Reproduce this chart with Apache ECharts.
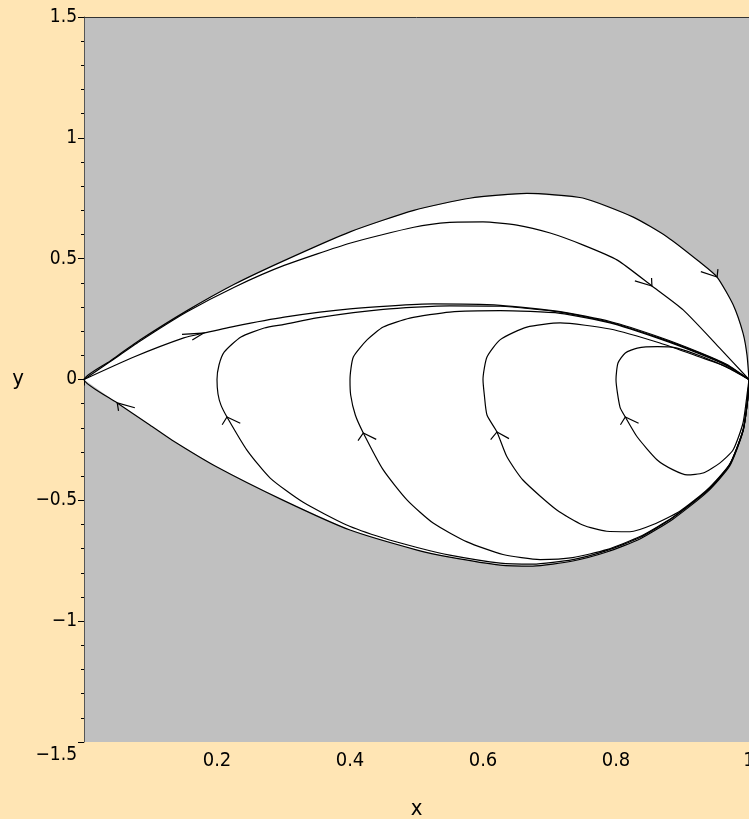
<!DOCTYPE html>
<html><head><meta charset="utf-8">
<script src="https://cdn.jsdelivr.net/npm/echarts@6/dist/echarts.min.js"></script>
<style>html,body{margin:0;padding:0;background:#FFE5B4;}#c{width:749px;height:819px;}</style>
</head><body><div id="c"></div>
<script>
// ---- axis ticks ----
const xTicks = [0, 0.2, 0.4, 0.6, 0.8, 1];
const xTickLabels = ['', '0.2', '0.4', '0.6', '0.8', '1'];
const yTicks = [-1.5, -1, -0.5, 0, 0.5, 1, 1.5];
const yTickLabels = ['−1.5', '−1', '−0.5', '0', '0.5', '1', '1.5'];

// ---- trajectories (x, y), in time order ----
const curveA = [[1,0],[0.998,-0.085],[0.991,-0.215],[0.971,-0.358],[0.937,-0.466],[0.886,-0.577],[0.836,-0.660],[0.786,-0.714],[0.735,-0.751],[0.675,-0.772],[0.626,-0.768],[0.55,-0.735],[0.501,-0.706],[0.40,-0.623],[0.299,-0.499],[0.20,-0.362],[0.132,-0.250],[0.099,-0.188],[0.05,-0.097],[0,0],[0.039,0.076],[0.084,0.163],[0.155,0.285],[0.226,0.394],[0.301,0.492],[0.401,0.612],[0.496,0.700],[0.58,0.750],[0.666,0.770],[0.75,0.751],[0.826,0.672],[0.877,0.590],[0.926,0.486],[0.952,0.424],[0.976,0.31],[0.991,0.192],[0.997,0.101],[1,0]];
const curveB = [[0,0],[0.039,0.073],[0.084,0.158],[0.155,0.280],[0.226,0.382],[0.301,0.472],[0.401,0.565],[0.496,0.630],[0.55,0.650],[0.60,0.652],[0.651,0.639],[0.701,0.606],[0.75,0.557],[0.802,0.494],[0.854,0.387],[0.901,0.288],[0.956,0.13],[1,0]];
const curveC = [[0,0],[0.075,0.093],[0.15,0.172],[0.18,0.192],[0.226,0.220],[0.301,0.258],[0.40,0.292],[0.525,0.313],[0.626,0.307],[0.716,0.281],[0.791,0.240],[0.866,0.175],[0.926,0.112],[0.967,0.062],[1,0]];
const curveD = [[1,0],[0.998,-0.083],[0.991,-0.211],[0.971,-0.353],[0.937,-0.461],[0.886,-0.571],[0.836,-0.654],[0.786,-0.708],[0.735,-0.745],[0.675,-0.764],[0.626,-0.760],[0.55,-0.727],[0.501,-0.695],[0.45,-0.656],[0.395,-0.602],[0.329,-0.507],[0.28,-0.408],[0.245,-0.292],[0.215,-0.155],[0.206,-0.106],[0.2015,-0.060],[0.20,0],[0.203,0.060],[0.211,0.114],[0.236,0.176],[0.271,0.213],[0.301,0.228],[0.35,0.255],[0.45,0.290],[0.55,0.305],[0.626,0.303],[0.716,0.279],[0.791,0.237],[0.866,0.171],[0.926,0.109],[0.967,0.059],[1,0]];
const curveE = [[1,0],[0.998,-0.083],[0.991,-0.211],[0.971,-0.352],[0.937,-0.460],[0.886,-0.569],[0.836,-0.650],[0.786,-0.704],[0.735,-0.737],[0.686,-0.745],[0.63,-0.724],[0.576,-0.672],[0.525,-0.594],[0.486,-0.499],[0.45,-0.374],[0.42,-0.221],[0.408,-0.147],[0.401,-0.064],[0.40,0],[0.405,0.093],[0.426,0.165],[0.45,0.217],[0.49,0.254],[0.55,0.279],[0.626,0.285],[0.716,0.274],[0.791,0.234],[0.866,0.168],[0.926,0.106],[0.967,0.057],[1,0]];
const curveF = [[1,0],[0.998,-0.083],[0.991,-0.210],[0.971,-0.350],[0.937,-0.456],[0.896,-0.545],[0.856,-0.600],[0.821,-0.630],[0.786,-0.628],[0.75,-0.602],[0.711,-0.540],[0.66,-0.416],[0.636,-0.32],[0.621,-0.217],[0.606,-0.147],[0.602,-0.064],[0.60,0],[0.606,0.093],[0.626,0.165],[0.666,0.217],[0.716,0.234],[0.791,0.209],[0.866,0.151],[0.926,0.093],[0.967,0.052],[1,0]];
const curveG = [[1,0],[0.998,-0.043],[0.991,-0.180],[0.976,-0.292],[0.956,-0.346],[0.931,-0.387],[0.907,-0.395],[0.886,-0.374],[0.862,-0.333],[0.832,-0.238],[0.814,-0.155],[0.806,-0.114],[0.80,0],[0.803,0.068],[0.814,0.110],[0.832,0.130],[0.862,0.136],[0.892,0.130],[0.931,0.093],[0.967,0.050],[1,0]];

// ---- direction arrows: which trajectory and where the tip sits ----
const arrowCurves = ['A', 'A', 'B', 'C', 'D', 'E', 'F', 'G'];
const arrowTips = [[0.05,-0.097],[0.952,0.424],[0.854,0.387],[0.18,0.192],[0.215,-0.155],[0.42,-0.221],[0.621,-0.217],[0.814,-0.155]];

const curves = {A: curveA, B: curveB, C: curveC, D: curveD, E: curveE, F: curveF, G: curveG};
const FONT = '"Liberation Sans Narrow", "DejaVu Sans Condensed", "Liberation Sans", sans-serif';

function labelFor(v, ticks, labels) {
  for (let i = 0; i < ticks.length; i++) if (Math.abs(v - ticks[i]) < 1e-9) return labels[i];
  return '';
}
const arrowDefs = arrowTips.map((tip, i) => {
  const pts = curves[arrowCurves[i]];
  let k = 1, best = Infinity;
  for (let j = 1; j < pts.length; j++) {
    const d = Math.hypot(pts[j][0] - tip[0], pts[j][1] - tip[1]);
    if (d < best) { best = d; k = j; }
  }
  return {tip: tip, dir: [pts[k][0] - pts[k-1][0], pts[k][1] - pts[k-1][1]]};
});

const chart = echarts.init(document.getElementById('c'), null, {renderer: 'canvas'});
const lineSeries = Object.keys(curves).map(name => ({
  type: 'line', name: name, data: curves[name], showSymbol: false, symbol: 'none',
  smooth: 0.2, lineStyle: {color: '#000', width: 1.2}, z: 3, silent: true, clip: true
}));

chart.setOption({
  animation: false,
  backgroundColor: '#FFE5B4',
  grid: {left: 84, right: 0, top: 17, bottom: 77, containLabel: false, outerBoundsMode: 'none',
    show: true, backgroundColor: '#C0C0C0', borderWidth: 0},
  xAxis: [{
    type: 'value', min: 0, max: 1, interval: 0.2, position: 'bottom',
    name: 'x', nameLocation: 'middle', nameGap: 56,
    nameTextStyle: {fontFamily: FONT, fontSize: 22, color: '#000'},
    axisLine: {show: true, lineStyle: {color: '#000', width: 1}},
    axisTick: {show: true, length: 6, lineStyle: {color: '#000'}},
    minorTick: {show: true, splitNumber: 5, length: 3, lineStyle: {color: '#000'}},
    splitLine: {show: false},
    axisLabel: {margin: 9, fontFamily: FONT, fontSize: 20, color: '#000', showMaxLabel: true,
      formatter: v => labelFor(v, xTicks, xTickLabels)}
  }, {
    type: 'value', min: 0, max: 1, position: 'top',
    axisLine: {show: true, lineStyle: {color: '#333', width: 1}},
    axisTick: {show: false}, axisLabel: {show: false}, splitLine: {show: false}
  }],
  yAxis: {
    type: 'value', min: -1.5, max: 1.5, interval: 0.5,
    name: 'y', nameLocation: 'middle', nameGap: 60, nameRotate: 0,
    nameTextStyle: {fontFamily: FONT, fontSize: 22, color: '#000'},
    axisLine: {show: true, lineStyle: {color: '#555', width: 1}},
    axisTick: {show: true, length: 6, lineStyle: {color: '#000'}},
    minorTick: {show: true, splitNumber: 5, length: 3, lineStyle: {color: '#000'}},
    splitLine: {show: false},
    axisLabel: {margin: 7, fontFamily: FONT, fontSize: 19, color: '#000',
      formatter: v => {
        const s = labelFor(v, yTicks, yTickLabels);
        return Math.abs(v - yTicks[0]) < 1e-9 ? '{lo|' + s + '}' : s;
      },
      rich: {lo: {padding: [26, 0, 0, 0], fontFamily: FONT, fontSize: 19, color: '#000'}}}
  },
  series: [{
    type: 'custom', coordinateSystem: 'cartesian2d', data: [[0, 0]], silent: true, z: 2, clip: true,
    renderItem: (params, api) => ({
      type: 'polygon', shape: {points: curveA.map(p => api.coord(p))},
      style: {fill: '#FFFFFF', stroke: null}
    })
  }].concat(lineSeries).concat([{
    type: 'custom', coordinateSystem: 'cartesian2d', silent: true, z: 4, clip: true,
    data: arrowTips.map(t => [t[0], t[1]]),
    renderItem: (params, api) => {
      const a = arrowDefs[params.dataIndex];
      const ang = Math.atan2(-a.dir[1], -a.dir[0]);
      const L = 0.033, th = 25 * Math.PI / 180;
      const w1 = [a.tip[0] + L * Math.cos(ang + th), a.tip[1] + L * Math.sin(ang + th)];
      const w2 = [a.tip[0] + L * Math.cos(ang - th), a.tip[1] + L * Math.sin(ang - th)];
      return {type: 'polyline', shape: {points: [api.coord(w1), api.coord(a.tip), api.coord(w2)]},
        style: {stroke: '#000', fill: null, lineWidth: 1.2}};
    }
  }])
});
</script></body></html>
